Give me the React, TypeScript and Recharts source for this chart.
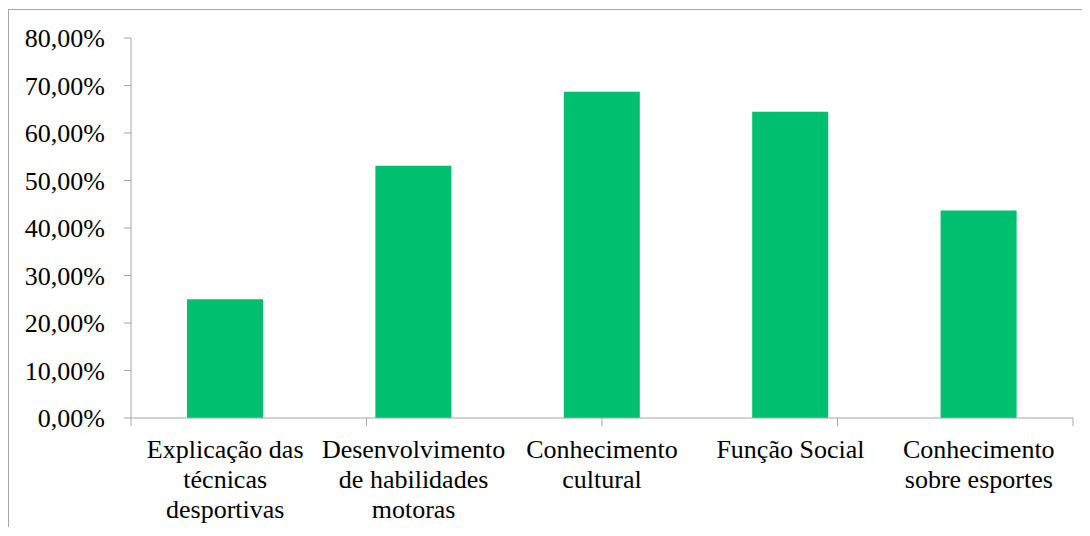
import { BarChart, Bar, XAxis, YAxis } from "recharts";

const categories = [
  "Explicação das\ntécnicas\ndesportivas",
  "Desenvolvimento\nde habilidades\nmotoras",
  "Conhecimento\ncultural",
  "Função Social",
  "Conhecimento\nsobre esportes",
];
const values = [25, 53.1, 68.7, 64.5, 43.7];
const yTicks = [0, 10, 20, 30, 40, 50, 60, 70, 80];
const boundaryTicks = [0, 1, 2, 3, 4, 5];

const data = categories.map((name, i) => ({ name, value: values[i] }));

const AXIS = "#a6a6a6";
const GREEN = "#00bf6f";
const FONT = '"Times New Roman", "Liberation Serif", Tinos, "DejaVu Serif", serif';

const CategoryTick = (props: any) => {
  const { x, y, payload } = props;
  const lines = String(payload.value).split("\n");
  return (
    <text x={x} y={y} textAnchor="middle" style={{ fontFamily: FONT }} fontSize={26} fill="#000">
      {lines.map((line, i) => (
        <tspan key={i} x={x} dy={i === 0 ? 32 : 30}>
          {line}
        </tspan>
      ))}
    </text>
  );
};

const App = () => (
  <div
    style={{
      position: "relative",
      top: 1,
      width: 1081,
      height: 518,
      borderTop: `1px solid ${AXIS}`,
      borderLeft: `1px solid ${AXIS}`,
      background: "#fff",
      fontFamily: FONT,
    }}
  >
    <BarChart
      width={1081}
      height={518}
      data={data}
      margin={{ top: 28, right: 17, left: 0, bottom: 0 }}
    >
      <XAxis
        xAxisId="labels"
        dataKey="name"
        height={102}
        axisLine={false}
        tickLine={false}
        tickSize={0}
        tickMargin={0}
        interval={0}
        tick={<CategoryTick />}
      />
      <XAxis
        xAxisId="edges"
        type="number"
        domain={[0, 5]}
        ticks={boundaryTicks}
        height={8}
        tickSize={8}
        stroke={AXIS}
        tick={() => <g />}
        allowDataOverflow
      />
      <YAxis
        domain={[0, 80]}
        ticks={yTicks}
        width={122}
        tickSize={7}
        tickMargin={19}
        stroke={AXIS}
        tick={{ fill: "#000", fontSize: 26, style: { fontFamily: FONT } }}
        tickFormatter={(v: number) => `${v.toFixed(2).replace(".", ",")}%`}
      />
      <Bar xAxisId="labels" dataKey="value" fill={GREEN} barSize={76} isAnimationActive={false} />
    </BarChart>
  </div>
);

export default App;
